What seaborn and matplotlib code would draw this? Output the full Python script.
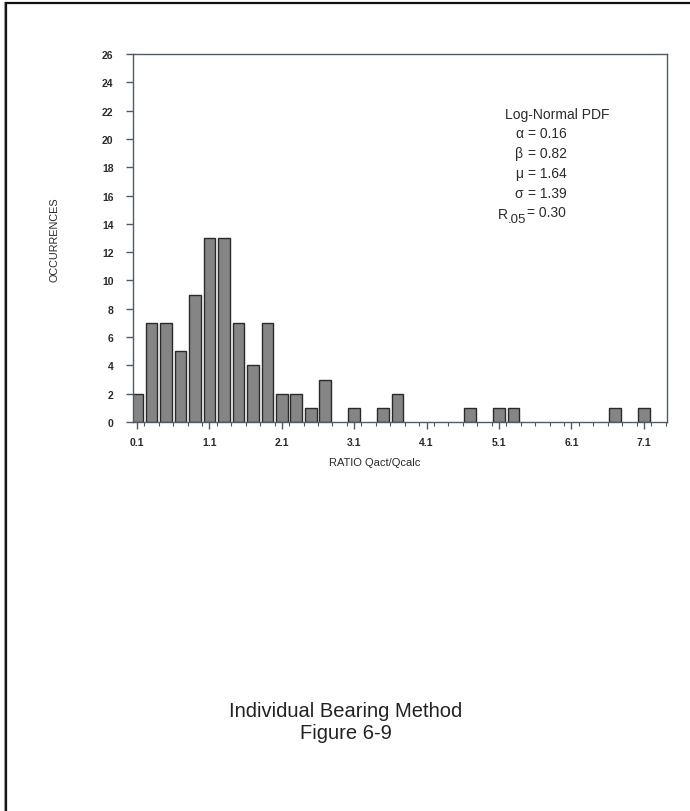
import matplotlib
matplotlib.use("Agg")
import matplotlib.pyplot as plt
from matplotlib.lines import Line2D
from matplotlib.ticker import MultipleLocator, FixedLocator
import seaborn as sns
import pandas as pd

# ---- data ----
ratio = [0.1, 0.3, 0.5, 0.7, 0.9, 1.1, 1.3, 1.5, 1.7, 1.9, 2.1, 2.3, 2.5, 2.7,
         3.1, 3.5, 3.7, 4.7, 5.1, 5.3, 6.7, 7.1]
occurrences = [2, 7, 7, 5, 9, 13, 13, 7, 4, 7, 2, 2, 1, 3,
               1, 1, 2, 1, 1, 1, 1, 1]
x_ticks = [0.1, 1.1, 2.1, 3.1, 4.1, 5.1, 6.1, 7.1]
x_tick_labels = ["0.1", "1.1", "2.1", "3.1", "4.1", "5.1", "6.1", "7.1"]
y_ticks = list(range(0, 27, 2))
param_names = ["α", "β", "μ", "σ"]
param_values = ["= 0.16", "= 0.82", "= 1.64", "= 1.39"]
r05_value = "= 0.30"

sns.set_theme(style="white")
plt.rcParams["font.family"] = ["Liberation Sans", "DejaVu Sans"]

W, H = 690, 812
fig = plt.figure(figsize=(W / 100, H / 100), dpi=100)
fig.patch.set_facecolor("white")

def fx(px):
    return px / W

def fy(py):
    return 1 - py / H

ax = fig.add_axes([fx(133), fy(423), fx(667) - fx(133), fy(55) - fy(423)])

df = pd.DataFrame({"ratio": ratio, "occ": occurrences})
sns.barplot(data=df, x="ratio", y="occ", native_scale=True, width=0.8,
            color="#858585", saturation=1, edgecolor="#2a2a2a", linewidth=1.0,
            ax=ax)

ax.set_xlim(0.045, 7.42)
ax.set_ylim(0, 26)
ax.xaxis.set_major_locator(FixedLocator(x_ticks))
ax.set_xticklabels(x_tick_labels)
ax.xaxis.set_minor_locator(MultipleLocator(0.2))
ax.set_yticks(y_ticks)
ax.set_yticklabels([str(v) for v in y_ticks])
ax.set_xlabel("")
ax.set_ylabel("")

spine_col = "#4f5b66"
for s in ax.spines.values():
    s.set_visible(True)
    s.set_color(spine_col)
    s.set_linewidth(1.0)

ax.tick_params(axis="both", which="major", direction="out", length=5,
               width=1.0, color=spine_col, labelsize=7.5, labelcolor="#2a2a2a")
ax.tick_params(axis="x", which="major", pad=6, bottom=True)
ax.tick_params(axis="y", which="major", pad=9, left=True)
ax.tick_params(axis="x", which="minor", direction="out", length=3, width=0.8,
               color=spine_col, bottom=True)
for lab in ax.get_xticklabels() + ax.get_yticklabels():
    lab.set_fontweight("bold")

# axis labels
fig.text(fx(375), fy(463), "RATIO Qact/Qcalc", ha="center", va="center",
         fontsize=8, color="#2a2a2a")
fig.text(fx(55), fy(240), "OCCURRENCES", ha="center", va="center",
         rotation=90, fontsize=7.8, color="#2a2a2a")

# annotation block
tc = "#2a2a2a"
fig.text(fx(505), fy(115), "Log-Normal PDF", ha="left", va="center",
         fontsize=10, color=tc)
for i, (n, v) in enumerate(zip(param_names, param_values)):
    y = fy(134 + 20 * i)
    fig.text(fx(523), y, n, ha="right", va="center", fontsize=10, color=tc)
    fig.text(fx(528), y, v, ha="left", va="center", fontsize=10, color=tc)
# R.05 line: "R" with a ".05" subscript
fig.text(fx(508), fy(215), "R", ha="right", va="center", fontsize=10, color=tc)
fig.text(fx(508), fy(220), ".05", ha="left", va="center", fontsize=9.5,
         color=tc)
fig.text(fx(527), fy(213), r05_value, ha="left", va="center", fontsize=10,
         color=tc)

# caption
fig.text(fx(346), fy(712), "Individual Bearing Method", ha="center",
         va="center", fontsize=14.5, color="#222222")
fig.text(fx(346), fy(734), "Figure 6-9", ha="center", va="center",
         fontsize=14.5, color="#222222")

# page frame (top and left edges visible)
fig.add_artist(Line2D([fx(5), 1], [fy(4), fy(4)], transform=fig.transFigure,
                      color="#111111", lw=1.6))
fig.add_artist(Line2D([fx(6), fx(6)], [0, fy(4)], transform=fig.transFigure,
                      color="#111111", lw=1.6))
fig.add_artist(Line2D([fx(4), fx(4)], [0, fy(3)], transform=fig.transFigure,
                      color="#999999", lw=0.8))

fig.savefig("out.png", dpi=100, facecolor="white")
